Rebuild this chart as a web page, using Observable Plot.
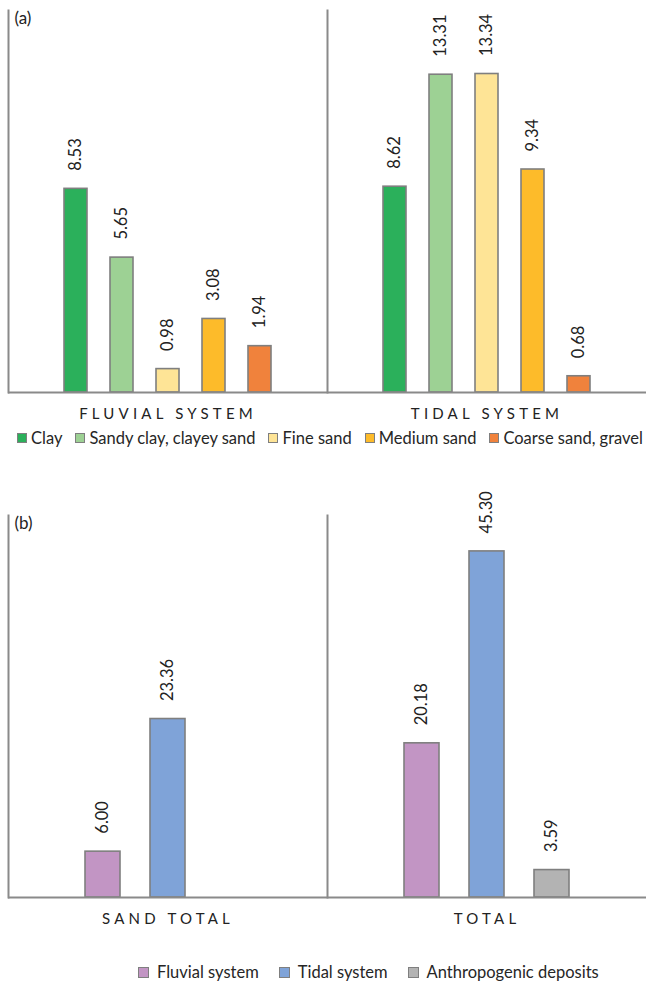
<!DOCTYPE html>
<html>
<head>
<meta charset="utf-8">
<script src="https://cdn.jsdelivr.net/npm/d3@7"></script>
<script src="https://cdn.jsdelivr.net/npm/@observablehq/plot@0.6"></script>
<style>
  html, body { margin: 0; padding: 0; background: #fff; }
  body { width: 646px; font-family: Lato, "Noto Sans", sans-serif; color: #262626; }
  .cat { letter-spacing: 4.2px; }
  .legend { display: flex; align-items: center; height: 20px; font-size: 16.5px; color: #262626; white-space: nowrap; }
  .legend .item { display: flex; align-items: center; }
  .legend .sw { width: 8px; height: 8px; border: 1.5px solid #7f7f7f; margin-right: 4px; }
  #legA { justify-content: space-between; padding: 0 3px 0 17px; }
  #legB { margin-top: 29px; padding-left: 138px; gap: 20px; }
  #legB .sw { width: 9px; height: 9px; margin-right: 8px; }
</style>
</head>
<body>
<div id="chartA"></div>
<div id="legA" class="legend"></div>
<div id="chartB"></div>
<div id="legB" class="legend"></div>
<script>
// ---- Data: panel (a)
const groupsA = ["FLUVIAL SYSTEM", "TIDAL SYSTEM"];
const typesA = ["Clay", "Sandy clay, clayey sand", "Fine sand", "Medium sand", "Coarse sand, gravel"];
const fluvialA = [8.53, 5.65, 0.98, 3.08, 1.94];
const tidalA = [8.62, 13.31, 13.34, 9.34, 0.68];
const colorsA = ["#2bb05b", "#9dd194", "#fee496", "#fdbb2a", "#f0823c"];

// ---- Data: panel (b)
const groupsB = ["SAND TOTAL", "TOTAL"];
const typesB = ["Fluvial system", "Tidal system", "Anthropogenic deposits"];
const sandTotalB = [6.00, 23.36, null];
const totalB = [20.18, 45.30, 3.59];
const colorsB = ["#c295c4", "#7fa3d8", "#b3b3b3"];

const rowsA = [];
[fluvialA, tidalA].forEach((vals, gi) => vals.forEach((v, i) => {
  if (v != null) rowsA.push({group: groupsA[gi], type: typesA[i], value: v});
}));
const rowsB = [];
[sandTotalB, totalB].forEach((vals, gi) => vals.forEach((v, i) => {
  if (v != null) rowsB.push({group: groupsB[gi], type: typesB[i], value: v});
}));

const fmt = d3.format(".2f");
const axisColor = "#8a8a8a";

function panel({rows, groups, types, colors, yMax, tag, marginTop, height, padIn}) {
  return Plot.plot({
    width: 646,
    height,
    marginLeft: 8,
    marginRight: 0,
    marginTop,
    marginBottom: 36,
    style: {fontFamily: "Lato, 'Noto Sans', sans-serif", background: "#fff"},
    fx: {domain: groups, padding: 0, axis: null},
    x: {domain: types, paddingInner: padIn, paddingOuter: 1.15, axis: null},
    y: {domain: [0, yMax], axis: null},
    color: {domain: types, range: colors},
    marks: [
      Plot.frame({anchor: "left", stroke: axisColor, strokeWidth: 2}),
      Plot.barY(rows, {fx: "group", x: "type", y: "value", fill: "type",
        stroke: "#7f7f7f", strokeWidth: 1.6}),
      Plot.text(rows, {fx: "group", x: "type", y: "value", text: d => fmt(d.value),
        rotate: -90, textAnchor: "start", lineAnchor: "middle", dy: -18,
        fontSize: 16.5, fill: "#222"}),
      Plot.ruleY([0], {stroke: axisColor, strokeWidth: 2}),
      Plot.text(groups, {fx: d => d, text: d => d, frameAnchor: "bottom",
        dy: 22, lineAnchor: "middle", fontSize: 15, fill: "#222", className: "cat"}),
      Plot.text([tag], {fx: () => groups[0], text: d => d, frameAnchor: "top-left",
        dx: 6, dy: 8, textAnchor: "start", lineAnchor: "middle", fontSize: 17, fill: "#222"})
    ]
  });
}

document.getElementById("chartA").append(panel({
  rows: rowsA, groups: groupsA, types: typesA, colors: colorsA,
  yMax: 16, tag: "(a)", marginTop: 10, height: 428, padIn: 0.5
}));
document.getElementById("chartB").append(panel({
  rows: rowsB, groups: groupsB, types: typesB, colors: colorsB,
  yMax: 50, tag: "(b)", marginTop: 67, height: 485, padIn: 0.46
}));

function legend(id, types, colors) {
  const el = document.getElementById(id);
  types.forEach((t, i) => {
    const item = document.createElement("div");
    item.className = "item";
    const sw = document.createElement("span");
    sw.className = "sw";
    sw.style.background = colors[i];
    const lab = document.createElement("span");
    lab.textContent = t;
    item.append(sw, lab);
    el.append(item);
  });
}
legend("legA", typesA, colorsA);
legend("legB", typesB, colorsB);
</script>
</body>
</html>
